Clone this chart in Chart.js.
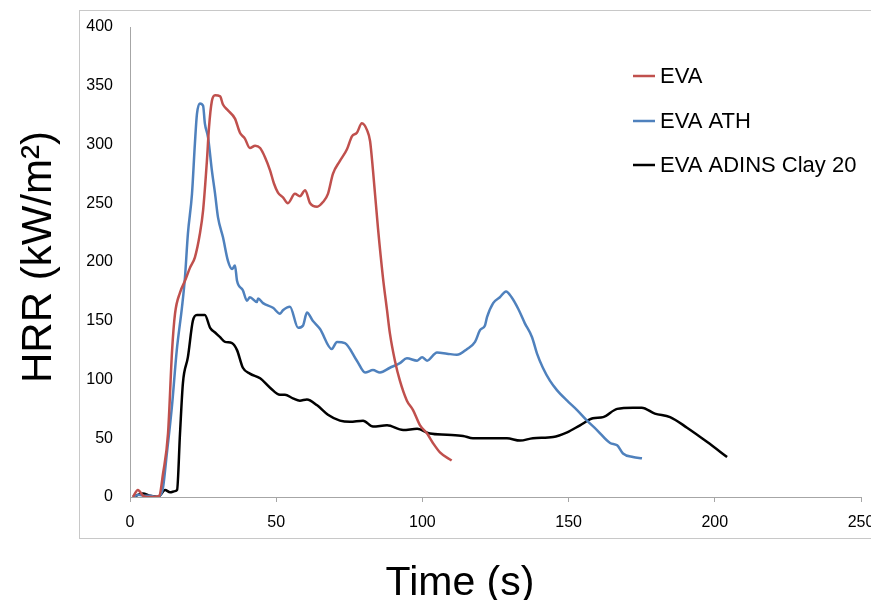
<!DOCTYPE html>
<html>
  <head>
    <title>HRR</title>
    <script src="https://cdn.jsdelivr.net/npm/chart.js"></script>
    <style>
      body { margin: 0; background: #fff; }
    </style>
  </head>
  <body>
    <canvas id="hrrChart" width="871" height="600"></canvas>

    <script>
      // series names
      const seriesNames = ["EVA", "EVA ATH", "EVA ADINS Clay 20"];

      // EVA
      const evaTime = [1, 2.7, 4.5, 6, 8, 10, 11.3, 13, 14.4, 15.4, 17.1, 18.8, 20.5, 22.2, 23.9, 25, 26.3, 27, 28, 29.1, 30.8, 31.8, 33.5, 35.9, 37.6, 39.3, 41, 42.8, 44.5, 46.2, 47.9, 49.2, 50.6, 52.3, 54, 56.4, 58.1, 59.9, 61.6, 64, 66, 67.7, 69.4, 71.8, 74.2, 75.9, 77.6, 79.3, 81.1, 82.1, 83.1, 84.8, 86.5, 87.9, 88.9, 90.6, 92.3, 94.7, 96.8, 99.2, 101.6, 103.6, 106, 110];
      const evaHRR = [0, 6, 1, 0, 0, 1, 20, 54, 125, 156, 174, 184, 195, 204, 224, 244, 286, 314, 337, 342, 341, 334, 329, 322, 310, 305, 297, 299, 297, 289, 278, 267, 259, 255, 250, 258, 256, 261, 250, 247, 251, 258, 275, 286, 296, 307, 310, 318, 312, 303, 278, 229, 187, 159, 139, 116, 99, 82, 74, 61, 54, 46, 38, 31];

      // EVA ATH
      const athTime = [1, 3, 5, 7, 9, 10.5, 11.3, 12.6, 14.3, 16, 17.8, 18.8, 19.8, 21.2, 22.2, 22.9, 23.9, 25, 25.6, 26.7, 28, 29.1, 30.1, 31.8, 33.5, 34.9, 35.9, 36.6, 38.6, 40, 41, 43.4, 43.8, 45.5, 48.9, 51.3, 52.3, 54.7, 57.5, 59.2, 60.5, 62.5, 65, 69, 70.8, 73.5, 77.6, 80.4, 83.1, 85.5, 88.9, 92.3, 94.7, 98.2, 99.9, 101.6, 105, 108.4, 111.8, 115.3, 118, 119.7, 121.4, 122.1, 124.2, 126.5, 128.6, 130.5, 132.8, 135, 137.5, 139.2, 141.2, 143.6, 146, 149.5, 152.9, 156.3, 159.7, 164.2, 166.6, 168.6, 172, 175.1];
      const athHRR = [0, 2, 1, 1, 0, 2, 8, 37, 76, 125, 162, 187, 224, 258, 301, 326, 335, 333, 318, 306, 278, 258, 238, 221, 201, 194, 197, 184, 176, 167, 170, 166, 169, 165, 161, 156, 159, 162, 144, 146, 157, 150, 143, 126, 132, 131, 116, 106, 108, 106, 110, 114, 118, 116, 119, 116, 123, 122, 121, 126, 132, 142, 146, 153, 165, 170, 175, 170, 160, 148, 136, 122, 110, 99, 91, 82, 74, 65, 57, 46, 44, 37, 34, 33];

      // EVA ADINS Clay 20
      const clayTime = [1, 4.4, 6.8, 9.6, 12, 13.7, 15.4, 16.1, 17.1, 18.1, 19.8, 21.5, 22.9, 25.6, 27.4, 29.1, 30.8, 32.5, 34.9, 36.6, 38.6, 41, 44.5, 47.9, 51.3, 53, 55.7, 58.1, 60.5, 64, 67.7, 71.8, 75.2, 79.7, 83.1, 87.9, 93.4, 98.2, 102.6, 108.4, 113.9, 117.3, 123.1, 128.9, 133.4, 137.8, 144.7, 149.5, 153.9, 158.3, 161.8, 166.6, 172, 175, 179.5, 184.7, 190.5, 197.3, 204.2];
      const clayHRR = [0, 3, 1, 0, 6, 4, 5, 6, 54, 97, 119, 150, 155, 155, 144, 140, 136, 132, 131, 125, 110, 105, 101, 93, 87, 87, 84, 82, 83, 78, 70, 65, 64, 65, 60, 61, 57, 58, 54, 53, 52, 50, 50, 50, 48, 50, 51, 55, 61, 67, 68, 75, 76, 76, 71, 68, 59, 47, 34];

      // axis ranges / ticks
      const xMin = 0, xMax = 250, xStep = 50;
      const yMin = 0, yMax = 400, yStep = 50;
      const xTitle = "Time (s)";
      const yTitle = "HRR (kW/m²)";

      const colors = ["#C0504D", "#4F81BD", "#000000"];

      function toPoints(xs, ys) {
        return xs.map((x, i) => ({ x: x, y: ys[i] }));
      }

      // 테두리, 축 제목, 범례를 직접 그림
      const decor = {
        id: "decor",
        beforeDraw(chart) {
          const ctx = chart.ctx;
          ctx.save();
          ctx.fillStyle = "#fff";
          ctx.fillRect(0, 0, chart.width, chart.height);
          ctx.strokeStyle = "#c8c8c8";
          ctx.lineWidth = 1;
          ctx.strokeRect(79.5, 10.5, chart.width, 528);
          ctx.restore();
        },
        afterDraw(chart) {
          const ctx = chart.ctx;
          ctx.save();
          ctx.fillStyle = "#000";
          ctx.font = "41px 'Liberation Sans'";
          ctx.textAlign = "center";
          ctx.textBaseline = "alphabetic";
          ctx.fillText(xTitle, 460, 595);

          ctx.save();
          ctx.translate(51, 257);
          ctx.rotate(-Math.PI / 2);
          ctx.font = "42px 'Liberation Sans'";
          ctx.fillText(yTitle, 0, 0);
          ctx.restore();

          // legend
          const rows = [76, 121, 165];
          ctx.font = "22px 'Liberation Sans'";
          ctx.textAlign = "left";
          ctx.textBaseline = "middle";
          chart.data.datasets.forEach((ds, i) => {
            ctx.strokeStyle = ds.borderColor;
            ctx.lineWidth = 2.5;
            ctx.beginPath();
            ctx.moveTo(633, rows[i]);
            ctx.lineTo(655, rows[i]);
            ctx.stroke();
            ctx.fillStyle = "#000";
            ctx.fillText(ds.label, 660, rows[i] + 1);
          });
          ctx.restore();
        },
      };

      const ctx = document.getElementById("hrrChart").getContext("2d");
      new Chart(ctx, {
        type: "line",
        data: {
          datasets: [
            { label: seriesNames[0], data: toPoints(evaTime, evaHRR), borderColor: colors[0] },
            { label: seriesNames[1], data: toPoints(athTime, athHRR), borderColor: colors[1] },
            { label: seriesNames[2], data: toPoints(clayTime, clayHRR), borderColor: colors[2] },
          ],
        },
        options: {
          responsive: false,
          animation: false,
          layout: { padding: { left: 0, top: 27, right: 10, bottom: 0 } },
          elements: {
            point: { radius: 0 },
            line: { borderWidth: 2.5, cubicInterpolationMode: "monotone", fill: false },
          },
          plugins: {
            legend: { display: false },
            tooltip: { enabled: false },
          },
          scales: {
            x: {
              type: "linear",
              min: xMin,
              max: xMax,
              ticks: {
                stepSize: xStep,
                padding: 11,
                color: "#000",
                font: { family: "'Liberation Sans'", size: 16 },
                maxRotation: 0,
              },
              grid: { drawOnChartArea: false, color: "#a6a6a6", tickLength: 5 },
              border: { color: "#a6a6a6" },
              afterFit(scale) {
                scale.height = 103;
                scale.paddingRight = 0;
              },
            },
            y: {
              min: yMin,
              max: yMax,
              ticks: {
                stepSize: yStep,
                padding: 17,
                color: "#000",
                font: { family: "'Liberation Sans'", size: 16 },
              },
              grid: { drawOnChartArea: false, drawTicks: false },
              border: { color: "#a6a6a6" },
              afterFit(scale) {
                scale.width = 130;
              },
            },
          },
        },
        plugins: [decor],
      });
    </script>
  </body>
</html>
